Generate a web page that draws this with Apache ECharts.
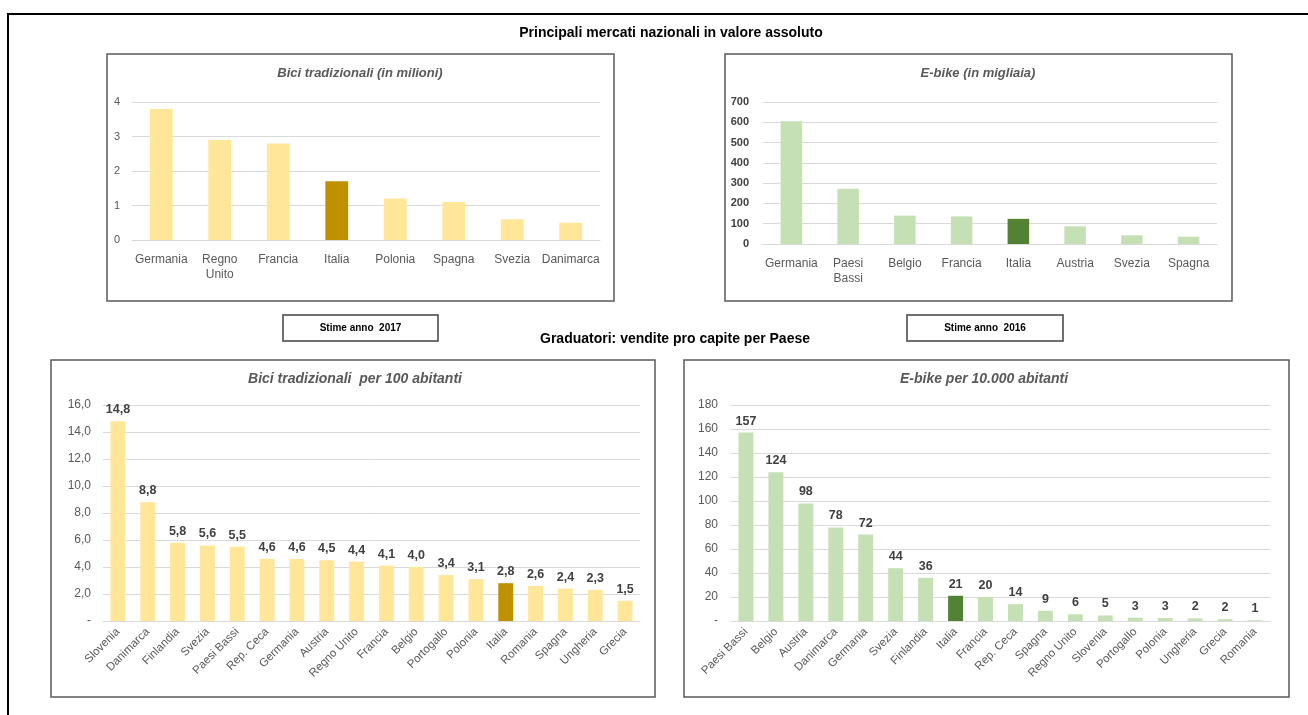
<!DOCTYPE html>
<html>
<head>
<meta charset="utf-8">
<script src="https://cdn.jsdelivr.net/npm/echarts@6/dist/echarts.min.js"></script>
<style>
  html, body { margin: 0; padding: 0; background: #fff; }
  #main { width: 1308px; height: 715px; }
</style>
</head>
<body>
<div id="main"></div>
<script>
// mercati nazionali - valori assoluti
const paesiBici = ['Germania', 'Regno Unito', 'Francia', 'Italia', 'Polonia', 'Spagna', 'Svezia', 'Danimarca']
const valoriBici = [3.8, 2.9, 2.8, 1.7, 1.2, 1.1, 0.6, 0.5]

const paesiEbike = ['Germania', 'Paesi Bassi', 'Belgio', 'Francia', 'Italia', 'Austria', 'Svezia', 'Spagna']
const valoriEbike = [605, 272, 140, 136, 124, 87, 43, 36]

// graduatorie pro capite
const paesiBiciPc = ['Slovenia', 'Danimarca', 'Finlandia', 'Svezia', 'Paesi Bassi', 'Rep. Ceca', 'Germania', 'Austria', 'Regno Unito', 'Francia', 'Belgio', 'Portogallo', 'Polonia', 'Italia', 'Romania', 'Spagna', 'Ungheria', 'Grecia']
const valoriBiciPc = [14.8, 8.8, 5.8, 5.6, 5.5, 4.6, 4.6, 4.5, 4.4, 4.1, 4.0, 3.4, 3.1, 2.8, 2.6, 2.4, 2.3, 1.5]

const paesiEbikePc = ['Paesi Bassi', 'Belgio', 'Austria', 'Danimarca', 'Germania', 'Svezia', 'Finlandia', 'Italia', 'Francia', 'Rep. Ceca', 'Spagna', 'Regno Unito', 'Slovenia', 'Portogallo', 'Polonia', 'Ungheria', 'Grecia', 'Romania']
const valoriEbikePc = [157, 124, 98, 78, 72, 44, 36, 21, 20, 14, 8.5, 5.6, 4.6, 2.8, 2.5, 2.2, 1.5, 0.6]

const FONT = '"Liberation Sans", Arial, sans-serif'
const GRAY = '#595959'
const DARK = '#404040'

const chart = echarts.init(document.getElementById('main'))

// evidenzia Italia
const colora = (nomi, valori, base, evid) =>
  valori.map((v, i) => ({ value: v, itemStyle: { color: nomi[i] === 'Italia' ? evid : base } }))

const virgola = (v, dec) => (v === 0 ? '-' : v.toFixed(dec).replace('.', ','))

const splitLine = { show: true, lineStyle: { color: '#d9d9d9', width: 1 } }
const axisLine = { show: true, lineStyle: { color: '#d9d9d9', width: 1 } }

const grids = [
  { left: 132, top: 102, width: 468, height: 138 },
  { left: 763, top: 102, width: 454, height: 142 },
  { left: 103, top: 405, width: 537, height: 216 },
  { left: 731, top: 405, width: 539, height: 216 }
]

const xAxes = [
  {
    gridIndex: 0, type: 'category', data: paesiBici,
    axisLine, axisTick: { show: false },
    axisLabel: { color: GRAY, fontSize: 12, fontFamily: FONT, margin: 12, lineHeight: 15, interval: 0, formatter: (v) => v.replace(' ', '\n') }
  },
  {
    gridIndex: 1, type: 'category', data: paesiEbike,
    axisLine, axisTick: { show: false },
    axisLabel: { color: GRAY, fontSize: 12, fontFamily: FONT, margin: 12, lineHeight: 15, interval: 0, formatter: (v) => v.replace(' ', '\n') }
  },
  {
    gridIndex: 2, type: 'category', data: paesiBiciPc,
    axisLine, axisTick: { show: false },
    axisLabel: { color: GRAY, fontSize: 11.5, fontFamily: FONT, margin: 9, rotate: 45, interval: 0 }
  },
  {
    gridIndex: 3, type: 'category', data: paesiEbikePc,
    axisLine, axisTick: { show: false },
    axisLabel: { color: GRAY, fontSize: 11.5, fontFamily: FONT, margin: 9, rotate: 45, interval: 0 }
  }
]

const yAxes = [
  {
    gridIndex: 0, type: 'value', min: 0, max: 4, interval: 1, splitLine,
    axisLabel: { color: GRAY, fontSize: 11, fontFamily: FONT, margin: 12 }
  },
  {
    gridIndex: 1, type: 'value', min: 0, max: 700, interval: 100, splitLine,
    axisLabel: { color: DARK, fontSize: 11, fontWeight: 'bold', fontFamily: FONT, margin: 14 }
  },
  {
    gridIndex: 2, type: 'value', min: 0, max: 16, interval: 2, splitLine,
    axisLabel: { color: GRAY, fontSize: 12, fontFamily: FONT, margin: 12, formatter: (v) => virgola(v, 1) }
  },
  {
    gridIndex: 3, type: 'value', min: 0, max: 180, interval: 20, splitLine,
    axisLabel: { color: GRAY, fontSize: 12, fontFamily: FONT, margin: 13, formatter: (v) => (v === 0 ? '-' : v) }
  }
]

const datoLabel = (fmt) => ({
  show: true, position: 'top', distance: 5,
  color: DARK, fontSize: 12.5, fontWeight: 'bold', fontFamily: FONT, formatter: fmt
})

const series = [
  {
    type: 'bar', xAxisIndex: 0, yAxisIndex: 0, barWidth: '39%',
    data: colora(paesiBici, valoriBici, '#FFE699', '#BF9000')
  },
  {
    type: 'bar', xAxisIndex: 1, yAxisIndex: 1, barWidth: '38%',
    data: colora(paesiEbike, valoriEbike, '#C5E0B4', '#548235')
  },
  {
    type: 'bar', xAxisIndex: 2, yAxisIndex: 2, barWidth: '50%',
    data: colora(paesiBiciPc, valoriBiciPc, '#FFE699', '#BF9000'),
    label: datoLabel((p) => virgola(p.value, 1))
  },
  {
    type: 'bar', xAxisIndex: 3, yAxisIndex: 3, barWidth: '50%',
    data: colora(paesiEbikePc, valoriEbikePc, '#C5E0B4', '#548235'),
    label: datoLabel((p) => Math.round(p.value))
  }
]

const riquadro = (x, y, w, h) => ({
  type: 'rect', z: -1, shape: { x, y, width: w, height: h },
  style: { fill: '#fff', stroke: '#595959', lineWidth: 1.5 }
})

const testo = (x, y, text, font, fill) => ({
  type: 'text', x, y, z: 10,
  style: { text, font, fill: fill || '#000', align: 'center', verticalAlign: 'middle' }
})

const etichetta = (x, y, w, h, text) => ({
  type: 'group',
  children: [
    { type: 'rect', shape: { x, y, width: w, height: h }, style: { fill: '#fff', stroke: '#404040', lineWidth: 1.5 } },
    testo(x + w / 2, y + h / 2, text, 'bold 10px ' + FONT, '#000')
  ]
})

const graphic = [
  // cornice esterna
  { type: 'rect', z: -2, shape: { x: 8, y: 14, width: 1320, height: 720 }, style: { fill: '#fff', stroke: '#000', lineWidth: 2 } },
  riquadro(107, 54, 507, 247),
  riquadro(725, 54, 507, 247),
  riquadro(51, 360, 604, 337),
  riquadro(684, 360, 605, 337),
  testo(671, 33, 'Principali mercati nazionali in valore assoluto', 'bold 14px ' + FONT),
  testo(675, 339, 'Graduatori: vendite pro capite per Paese', 'bold 14px ' + FONT),
  testo(360, 73, 'Bici tradizionali (in milioni)', 'italic bold 13px ' + FONT, GRAY),
  testo(978, 73, 'E-bike (in migliaia)', 'italic bold 13px ' + FONT, GRAY),
  testo(355, 379, 'Bici tradizionali  per 100 abitanti', 'italic bold 14px ' + FONT, GRAY),
  testo(984, 379, 'E-bike per 10.000 abitanti', 'italic bold 14px ' + FONT, GRAY),
  etichetta(283, 315, 155, 26, 'Stime anno  2017'),
  etichetta(907, 315, 156, 26, 'Stime anno  2016')
]

chart.setOption({
  animation: false,
  backgroundColor: '#fff',
  grid: grids,
  xAxis: xAxes,
  yAxis: yAxes,
  series,
  graphic
})
</script>
</body>
</html>
